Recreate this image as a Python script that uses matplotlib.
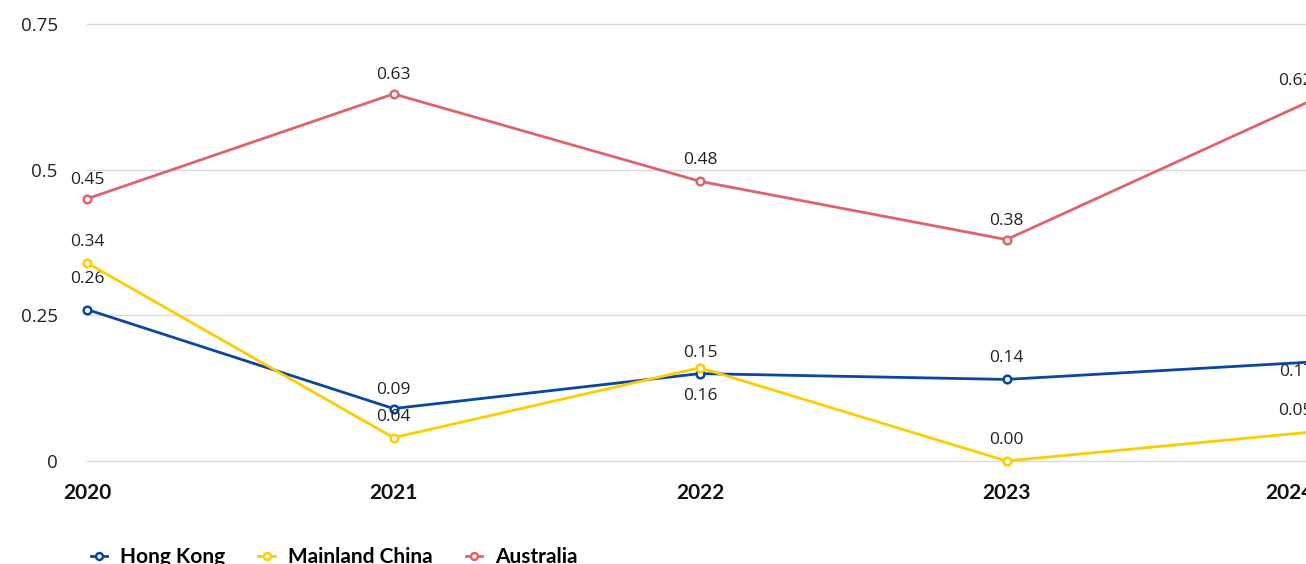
import matplotlib.pyplot as plt
from matplotlib.ticker import FixedLocator, FixedFormatter

years = [2020, 2021, 2022, 2023, 2024]
hong_kong = [0.26, 0.09, 0.15, 0.14, 0.17]
mainland_china = [0.34, 0.04, 0.16, 0.00, 0.05]
australia = [0.45, 0.63, 0.48, 0.38, 0.62]

y_ticks = [0, 0.25, 0.5, 0.75]
y_tick_labels = ["0", "0.25", "0.5", "0.75"]

series = [
    ("Hong Kong", hong_kong, "#0a47a0", [31, 19, 21, 21, -10]),
    ("Mainland China", mainland_china, "#ffcc00", [21, 21, -28, 21, 21]),
    ("Australia", australia, "#e0636c", [19, 19, 21, 19, 19]),
]

plt.rcParams["font.family"] = ["Open Sans", "DejaVu Sans"]
bold_font = ["Lato", "DejaVu Sans"]

W, H = 1306, 564
fig = plt.figure(figsize=(W / 100, H / 100), dpi=100)
# axes runs a little past the right edge, so the last year is cut off
x0, x1 = 87, 1313
y0, y1 = 461, 24
ax = fig.add_axes([x0 / W, 1 - y0 / H, (x1 - x0) / W, (y0 - y1) / H])
ax.set_xlim(2020, 2024)
ax.set_ylim(0, 0.75)

for name, vals, color, offs in series:
    ax.plot(years, vals, color=color, lw=2.0, marker="o", ms=5.5,
            mfc="white", mec=color, mew=1.8, label=name, zorder=3,
            clip_on=False)
    for x, v, off in zip(years, vals, offs):
        # labels on the last year are kept inside the plot area
        ha = "right" if x == years[-1] else "center"
        ax.annotate(f"{v:.2f}", (x, v), xytext=(0, off),
                    textcoords="offset pixels", ha=ha, va="center",
                    fontsize=12.5, color="#222222", annotation_clip=False)

ax.yaxis.set_major_locator(FixedLocator(y_ticks))
ax.yaxis.set_major_formatter(FixedFormatter(y_tick_labels))
ax.set_xticks(years)
ax.set_xticklabels([str(y) for y in years], fontweight="bold", fontsize=15,
                   color="#111111", family=bold_font)
ax.get_xticklabels()[-1].set_ha("right")
ax.tick_params(axis="y", length=0, pad=21, labelsize=13.5, labelcolor="#222222")
ax.tick_params(axis="x", length=0, pad=16)
ax.grid(axis="y", color="#d9d9d9", lw=1)
for gl in ax.get_ygridlines():
    gl.set_clip_on(False)
ax.set_axisbelow(True)
for s in ax.spines.values():
    s.set_visible(False)

leg = fig.legend(loc="lower left", bbox_to_anchor=(72 / W, -22 / H), ncol=3,
                 frameon=False, handlelength=0.8, handletextpad=0.6,
                 columnspacing=1.6, markerscale=0.9,
                 prop={"family": bold_font, "weight": "bold", "size": 15})

fig.savefig("out.png", dpi=100)
